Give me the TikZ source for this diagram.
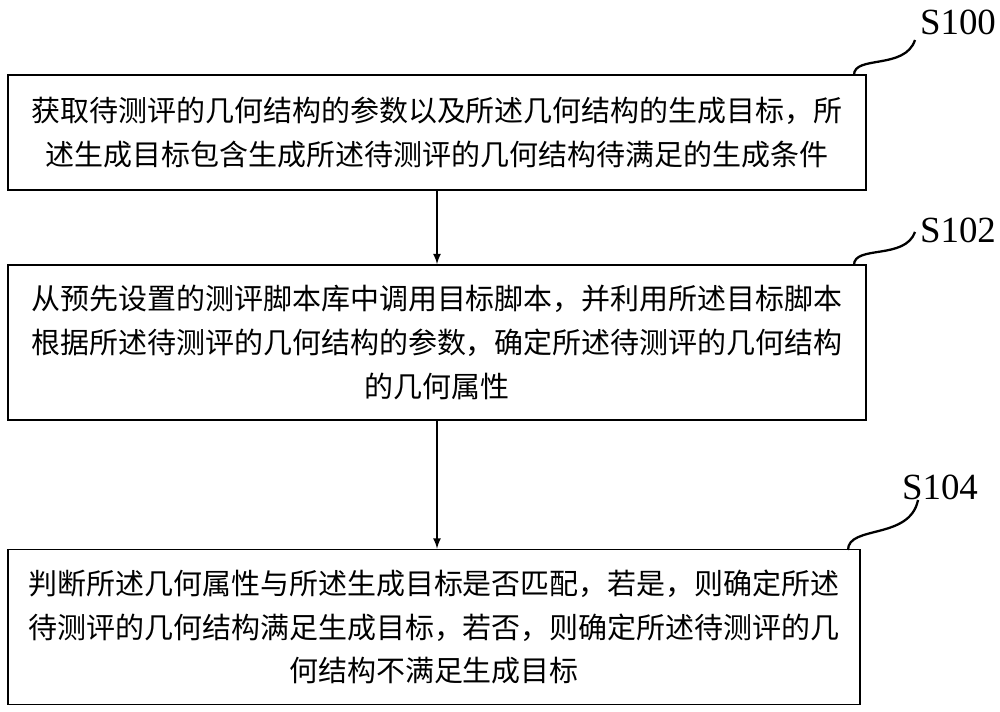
\documentclass[tikz,border=0pt]{standalone}
\usepackage{fontspec}
\newfontfamily\cjk{Noto Sans CJK SC}
\newfontfamily\lab{Liberation Serif}
\usetikzlibrary{positioning}
\tikzset{
  stepbox/.style={draw, line width=1pt, minimum width=17.16cm, align=center, inner sep=0pt,
    font=\cjk\fontsize{16.5}{25}\selectfont},
  steplab/.style={font=\lab\fontsize{21}{24}\selectfont},
  flow/.style={-latex, line width=1pt},
  hook/.style={line width=1.3pt}
}
\begin{document}
\begin{tikzpicture}[x=0.02cm,y=-0.02cm]
  \useasboundingbox (0,0) rectangle (1000,712);
  % boxes
  \node[stepbox, minimum height=2.3cm] (b1) at (437,132.5)
    {获取待测评的几何结构的参数以及所述几何结构的生成目标，所\\述生成目标包含生成所述待测评的几何结构待满足的生成条件};
  \node[stepbox, minimum height=3.1cm] (b2) at (437,342.5)
    {从预先设置的测评脚本库中调用目标脚本，并利用所述目标脚本\\根据所述待测评的几何结构的参数，确定所述待测评的几何结构\\的几何属性};
  \node[stepbox, minimum width=17.04cm, minimum height=3.1cm] (b3) at (434,627)
    {判断所述几何属性与所述生成目标是否匹配，若是，则确定所述\\待测评的几何结构满足生成目标，若否，则确定所述待测评的几\\何结构不满足生成目标};
  \draw[flow] (b1.south) -- (b2.north);
  \draw[flow] (b2.south) -- (b2.south |- b3.north);
  % labels
  \node[steplab] (s100) at (958,22) {S100};
  \node[steplab] (s102) at (958,230) {S102};
  \node[steplab] (s104) at (940,487) {S104};
  \draw[hook] (854,75) .. controls (854,55) and (905,70) .. (915,40);
  \draw[hook] (854,265) .. controls (854,245) and (905,260) .. (915,232);
  \draw[hook] (848,550) .. controls (848,525) and (910,540) .. (918,500);
\end{tikzpicture}
\end{document}
